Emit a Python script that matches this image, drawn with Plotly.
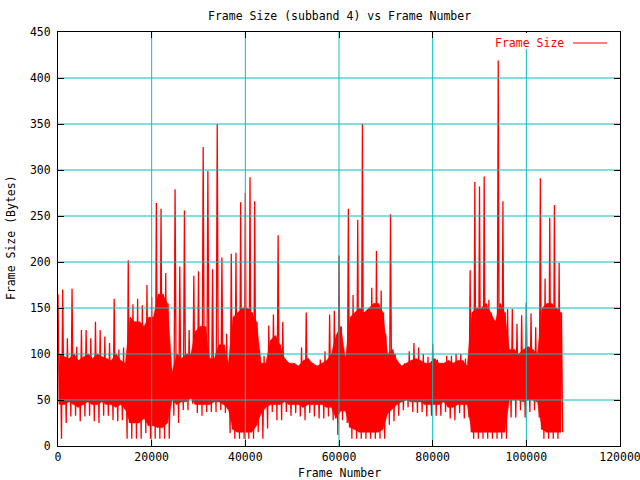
import plotly.graph_objects as go

# Per-1000-frame values of the frame size (bytes)
bin_width = 1000
# highest spike in each bin
frame_size_high = [
    165, 170, 117, 171, 108, 126, 126, 117, 135, 126,
    119, 112, 160, 105, 107, 202, 154, 160, 153, 175,
    162, 264, 258, 188, 88, 279, 195, 256, 126, 185,
    190, 325, 299, 192, 350, 205, 122, 209, 210, 265,
    275, 292, 266, 105, 98, 131, 143, 229, 135, 90,
    86, 83, 107, 145, 88, 81, 94, 103, 143, 147,
    207, 98, 258, 164, 246, 350, 142, 172, 212, 169,
    122, 252, 100, 83, 90, 103, 112, 107, 100, 97,
    111, 94, 90, 98, 98, 100, 100, 95, 191, 287,
    282, 293, 159, 126, 419, 266, 149, 149, 133, 142,
    156, 144, 129, 291, 182, 248, 262, 199,
]
# lowest dip in each bin
frame_size_low = [
    8, 25, 32, 33, 27, 32, 33, 27, 25, 33,
    33, 28, 27, 28, 8, 8, 8, 8, 14, 8,
    8, 8, 8, 8, 33, 25, 39, 39, 46, 36,
    33, 37, 37, 37, 39, 36, 14, 8, 8, 8,
    8, 8, 15, 8, 19, 37, 28, 28, 37, 33,
    36, 32, 28, 36, 32, 30, 30, 32, 28, 12,
    28, 25, 8, 8, 8, 8, 8, 8, 8, 8,
    23, 27, 33, 39, 42, 37, 36, 37, 32, 33,
    33, 33, 37, 30, 28, 36, 30, 31, 8, 8,
    8, 8, 8, 8, 8, 8, 31, 31, 39, 31,
    37, 39, 31, 8, 8, 8, 8, 15,
]
# typical upper level of the dense part in each bin
frame_size_core_top = [
    100, 97, 95, 100, 93, 97, 100, 95, 100, 97,
    95, 93, 100, 93, 90, 140, 135, 135, 130, 140,
    140, 165, 165, 155, 80, 100, 95, 100, 100, 125,
    130, 130, 95, 95, 110, 110, 90, 140, 145, 150,
    150, 145, 135, 90, 90, 115, 120, 110, 95, 90,
    90, 87, 93, 95, 90, 87, 90, 93, 100, 120,
    130, 95, 140, 145, 150, 145, 150, 155, 155, 145,
    100, 105, 93, 87, 90, 93, 95, 93, 90, 90,
    95, 90, 90, 93, 90, 93, 93, 87, 145, 150,
    150, 155, 145, 135, 155, 145, 105, 105, 100, 105,
    108, 105, 100, 150, 155, 155, 150, 145,
]
# typical lower level of the dense part in each bin
frame_size_core_low = [
    45, 45, 48, 45, 42, 45, 48, 45, 45, 48,
    45, 45, 42, 45, 40, 25, 25, 25, 30, 22,
    22, 20, 20, 25, 50, 45, 48, 48, 52, 45,
    45, 45, 45, 48, 48, 45, 40, 18, 15, 15,
    15, 15, 22, 35, 42, 45, 45, 45, 48, 45,
    45, 45, 42, 45, 45, 45, 45, 42, 42, 30,
    38, 38, 20, 18, 15, 15, 15, 15, 15, 18,
    35, 40, 45, 48, 50, 48, 48, 48, 45, 45,
    45, 45, 48, 42, 42, 45, 45, 45, 15, 15,
    15, 15, 15, 15, 15, 15, 50, 50, 50, 48,
    50, 50, 48, 18, 15, 15, 15, 15,
]
x_ticks = [0, 20000, 40000, 60000, 80000, 100000, 120000]
y_ticks = [0, 50, 100, 150, 200, 250, 300, 350, 400, 450]

# one frame-size sequence: in every bin it visits the peak, the typical low,
# the typical top and the dip (two oscillations per bin)
frames, sizes = [], []
for k in range(len(frame_size_high)):
    start = k * bin_width
    frames += [start + 0, start + 250, start + 500, start + 750]
    sizes += [frame_size_high[k], frame_size_core_low[k],
              frame_size_core_top[k], frame_size_low[k]]

# the dense part of the band is solid red
band_x = [k * bin_width + 375 for k in range(len(frame_size_core_top))]
band_x = band_x + band_x[::-1]
band_y = frame_size_core_top + frame_size_core_low[::-1]

FONT = "DejaVu Sans Mono"
FS = 11.5
GRID = "#00C0C0"
RED = "#FF0000"

fig = go.Figure()
fig.add_trace(go.Scatter(
    x=band_x, y=band_y, mode="lines", fill="toself", fillcolor=RED,
    line=dict(color=RED, width=0.5), showlegend=False, hoverinfo="skip",
))
fig.add_trace(go.Scatter(
    x=frames, y=sizes, mode="lines",
    line=dict(color=RED, width=1.3, simplify=False),
    showlegend=False, hoverinfo="skip",
))

# grid drawn in front of the data (gnuplot style)
gx, gy = [], []
for t in x_ticks[1:-1]:
    gx += [t, t, None]
    gy += [y_ticks[0], y_ticks[-1], None]
for t in y_ticks[1:-1]:
    gx += [x_ticks[0], x_ticks[-1], None]
    gy += [t, t, None]
fig.add_trace(go.Scatter(
    x=gx, y=gy, mode="lines", line=dict(color=GRID, width=1),
    showlegend=False, hoverinfo="skip",
))

axis_common = dict(
    showgrid=False, zeroline=False, showline=True, linecolor="black",
    linewidth=1, mirror="allticks", ticks="inside", ticklen=6,
    tickcolor="black", tickwidth=1, layer="above traces",
    tickfont=dict(family=FONT, size=FS, color="black"),
    ticklabeloverflow="allow", automargin=False,
)
fig.update_xaxes(range=[0, 120000], tickvals=x_ticks,
                 ticktext=[str(v) for v in x_ticks], **axis_common)
fig.update_yaxes(range=[0, 450], tickvals=y_ticks,
                 ticktext=[str(v) for v in y_ticks], ticklabelstandoff=4,
                 **axis_common)

fig.update_layout(
    width=640, height=480,
    margin=dict(l=58, r=20, t=32, b=34, autoexpand=False),
    paper_bgcolor="white", plot_bgcolor="white",
    font=dict(family=FONT, size=FS, color="black"),
    showlegend=False,
    shapes=[
        dict(type="rect", xref="paper", yref="paper", x0=0.769, x1=0.991,
             y0=0.959, y1=0.9976, fillcolor="white", line=dict(width=0),
             layer="above"),
        dict(type="line", xref="paper", yref="paper", x0=0.9164, x1=0.9769,
             y0=0.9734, y1=0.9734, line=dict(color=RED, width=1),
             layer="above"),
    ],
    annotations=[
        dict(text="Frame Size (subband 4) vs Frame Number", xref="paper",
             yref="paper", x=0.5, y=1.0386, showarrow=False,
             xanchor="center", yanchor="middle",
             font=dict(family=FONT, size=FS, color="black")),
        dict(text="Frame Number", xref="paper", yref="paper", x=0.5,
             y=-0.0652, showarrow=False, xanchor="center", yanchor="middle",
             font=dict(family=FONT, size=FS, color="black")),
        dict(text="Frame Size (Bytes)", xref="paper", yref="paper",
             x=-0.0836, y=0.5024, showarrow=False, textangle=-90,
             xanchor="center", yanchor="middle",
             font=dict(family=FONT, size=FS, color="black")),
        dict(text="Frame Size", xref="paper", yref="paper", x=0.9039,
             y=0.9734, showarrow=False, xanchor="right", yanchor="middle",
             font=dict(family=FONT, size=FS, color=RED)),
    ],
)

fig.write_html(
    "out.html",
    config={"displayModeBar": False, "staticPlot": True},
    post_script="document.body.style.margin='0';"
                "document.body.style.overflow='hidden';",
)
